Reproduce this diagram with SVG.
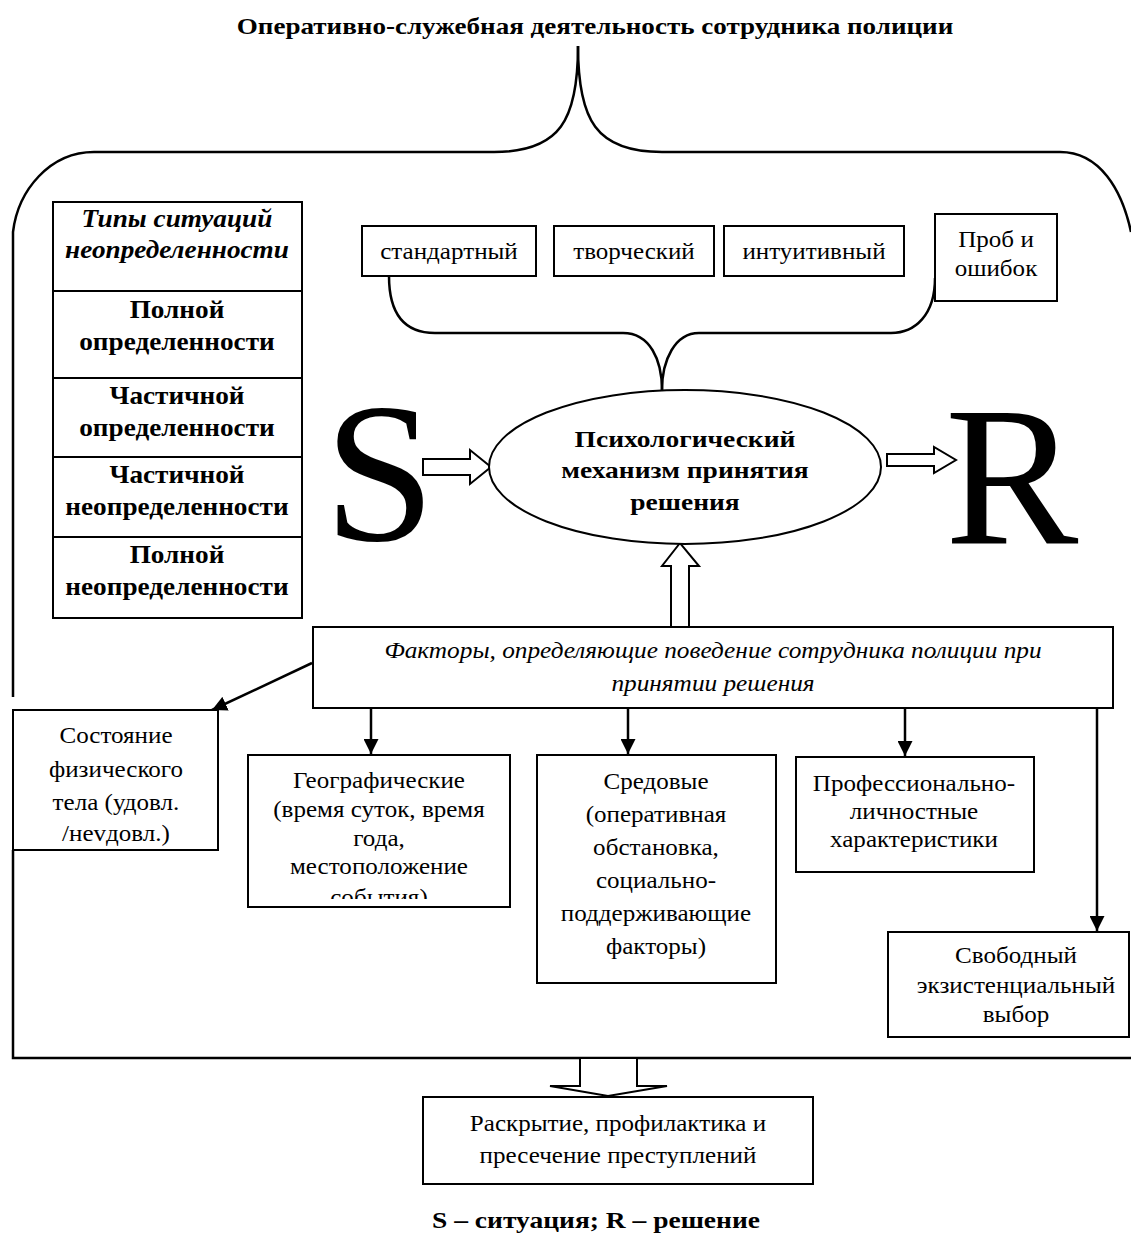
<svg xmlns="http://www.w3.org/2000/svg" width="1131" height="1233" viewBox="0 0 1131 1233">
<defs>
<style>
.box{fill:#fff;stroke:#000;stroke-width:2}
.ln{fill:none;stroke:#000;stroke-width:2.5}
.arr{fill:none;stroke:#000;stroke-width:2.5;marker-end:url(#ah)}
.blk{fill:#fff;stroke:#000;stroke-width:2;stroke-linejoin:miter}
.t{font-family:"Liberation Serif","Times New Roman",serif;font-size:23px;text-anchor:middle;fill:#000}
.b{font-weight:bold}
.i{font-style:italic}
.tb{font-size:25px}
.big{font-size:200px;text-anchor:start}
</style>
<marker id="ah" viewBox="0 0 10 10" refX="10" refY="5" markerWidth="6" markerHeight="6" orient="auto" markerUnits="strokeWidth">
<path d="M0,0 L10,5 L0,10 Z" fill="#000"/>
</marker>
<clipPath id="geoclip"><rect x="249" y="756" width="260" height="143"/></clipPath>
</defs>
<rect width="1131" height="1233" fill="#fff"/>

<g id="title" transform="matrix(1.177,0,0,1,-105.3,0)">
<text class="t b" x="595" y="34">Оперативно-служебная деятельность сотрудника полиции</text>
</g>

<g id="connectors">
<path class="ln" d="M578,46 C578,120 560,152 494,152 L94,152 C50,152 18,190 13,232 L13,697"/>
<path class="ln" d="M578,46 C578,120 596,152 662,152 L1060,152 C1100,152 1122,190 1131,232"/>
<path class="ln" d="M13,850 L13,1058 L1131,1058"/>
<path class="ln" d="M389,276 C389,315 405,333 435,333 L623,333 C650,333 662,360 662,390"/>
<path class="ln" d="M662,390 C662,360 675,333 699,333 L891,333 C915,333 935,315 935,278"/>
<line class="arr" x1="312" y1="663" x2="212" y2="710"/>
<line class="arr" x1="371" y1="708" x2="371" y2="754"/>
<line class="arr" x1="628" y1="708" x2="628" y2="754"/>
<line class="arr" x1="905" y1="708" x2="905" y2="756"/>
<line class="arr" x1="1097" y1="708" x2="1097" y2="931"/>
<polygon class="blk" points="423,459 470,459 470,450 491,467 470,484 470,475 423,475"/>
<polygon class="blk" points="887,454 934,454 934,447 956,460 934,473 934,466 887,466"/>
<polygon class="blk" points="671,627 671,566 662,566 680,543 699,566 689,566 689,627"/>
<polygon class="blk" points="580,1058 580,1086 550,1086 608,1096 667,1086 637,1086 637,1058"/>
</g>

<g id="n-S"><text class="t big" x="324" y="540">S</text></g>
<g id="n-R"><text class="t big" x="945" y="543">R</text></g>

<g id="table">
<rect class="box" x="53" y="202" width="249" height="416"/>
<line class="box" x1="53" y1="291" x2="302" y2="291"/>
<line class="box" x1="53" y1="378" x2="302" y2="378"/>
<line class="box" x1="53" y1="457" x2="302" y2="457"/>
<line class="box" x1="53" y1="537" x2="302" y2="537"/>
<g transform="matrix(1.09,0,0,1,-15.93,0)">
<text class="t b i tb" x="177" y="227">Типы ситуаций</text>
<text class="t b i tb" x="177" y="258">неопределенности</text>
<text class="t b tb" x="177" y="318">Полной</text>
<text class="t b tb" x="177" y="350">определенности</text>
<text class="t b tb" x="177" y="404">Частичной</text>
<text class="t b tb" x="177" y="436">определенности</text>
<text class="t b tb" x="177" y="483">Частичной</text>
<text class="t b tb" x="177" y="515">неопределенности</text>
<text class="t b tb" x="177" y="563">Полной</text>
<text class="t b tb" x="177" y="595">неопределенности</text>
</g>
</g>

<g id="n-standard"><rect class="box" x="362" y="226" width="174" height="50"/><text class="t" x="449" y="259" transform="matrix(1.09,0,0,1,-40.41,0)">стандартный</text></g>
<g id="n-creative"><rect class="box" x="554" y="226" width="160" height="50"/><text class="t" x="634" y="259" transform="matrix(1.09,0,0,1,-57.06,0)">творческий</text></g>
<g id="n-intuitive"><rect class="box" x="724" y="226" width="180" height="50"/><text class="t" x="814" y="259" transform="matrix(1.09,0,0,1,-73.26,0)">интуитивный</text></g>
<g id="n-trial"><rect class="box" x="935" y="214" width="122" height="87"/>
<g transform="matrix(1.09,0,0,1,-89.64,0)"><text class="t" x="996" y="247">Проб и</text><text class="t" x="996" y="276">ошибок</text></g></g>

<g id="n-mechanism">
<ellipse class="box" cx="685" cy="467" rx="196" ry="77"/>
<g transform="matrix(1.196,0,0,1,-134.26,0)">
<text class="t b" x="685" y="447">Психологический</text>
<text class="t b" x="685" y="478">механизм принятия</text>
<text class="t b" x="685" y="510">решения</text>
</g>
</g>

<g id="n-factors">
<rect class="box" x="313" y="627" width="800" height="81"/>
<g transform="matrix(1.1,0,0,1,-71.3,0)">
<text class="t i" x="713" y="658" fill="#333">Факторы, определяющие поведение сотрудника полиции  при</text>
<text class="t i" x="713" y="691" fill="#333">принятии решения</text>
</g>
</g>

<g id="n-body">
<rect class="box" x="13" y="710" width="205" height="140"/>
<g transform="matrix(1.09,0,0,1,-10.44,0)">
<text class="t" x="116" y="743">Состояние</text>
<text class="t" x="116" y="777">физического</text>
<text class="t" x="116" y="810">тела (удовл.</text>
<text class="t" x="116" y="841">/неvдовл.)</text>
</g>
</g>

<g id="n-geo">
<rect class="box" x="248" y="755" width="262" height="152"/>
<g clip-path="url(#geoclip)">
<g transform="matrix(1.09,0,0,1,-34.11,0)">
<text class="t" x="379" y="788">Географические</text>
<text class="t" x="379" y="817">(время суток, время</text>
<text class="t" x="379" y="846">года,</text>
<text class="t" x="379" y="874">местоположение</text>
<text class="t" x="379" y="905">события)</text>
</g>
</g>
</g>

<g id="n-env">
<rect class="box" x="537" y="755" width="239" height="228"/>
<g transform="matrix(1.09,0,0,1,-59.04,0)">
<text class="t" x="656" y="789">Средовые</text>
<text class="t" x="656" y="822">(оперативная</text>
<text class="t" x="656" y="855">обстановка,</text>
<text class="t" x="656" y="888">социально-</text>
<text class="t" x="656" y="921">поддерживающие</text>
<text class="t" x="656" y="954">факторы)</text>
</g>
</g>

<g id="n-prof">
<rect class="box" x="796" y="757" width="238" height="115"/>
<g transform="matrix(1.09,0,0,1,-82.26,0)">
<text class="t" x="914" y="791">Профессионально-</text>
<text class="t" x="914" y="819">личностные</text>
<text class="t" x="914" y="847">характеристики</text>
</g>
</g>

<g id="n-free">
<rect class="box" x="888" y="932" width="241" height="105"/>
<g transform="matrix(1.09,0,0,1,-91.44,0)">
<text class="t" x="1016" y="963">Свободный</text>
<text class="t" x="1016" y="993">экзистенциальный</text>
<text class="t" x="1016" y="1022">выбор</text>
</g>
</g>

<g id="n-result">
<rect class="box" x="423" y="1097" width="390" height="87"/>
<g transform="matrix(1.09,0,0,1,-55.62,0)">
<text class="t" x="618" y="1131">Раскрытие, профилактика и</text>
<text class="t" x="618" y="1163">пресечение преступлений</text>
</g>
</g>

<g id="legend" transform="matrix(1.196,0,0,1,-116.8,0)">
<text class="t b" x="596" y="1228">S – ситуация; R – решение</text>
</g>
</svg>
